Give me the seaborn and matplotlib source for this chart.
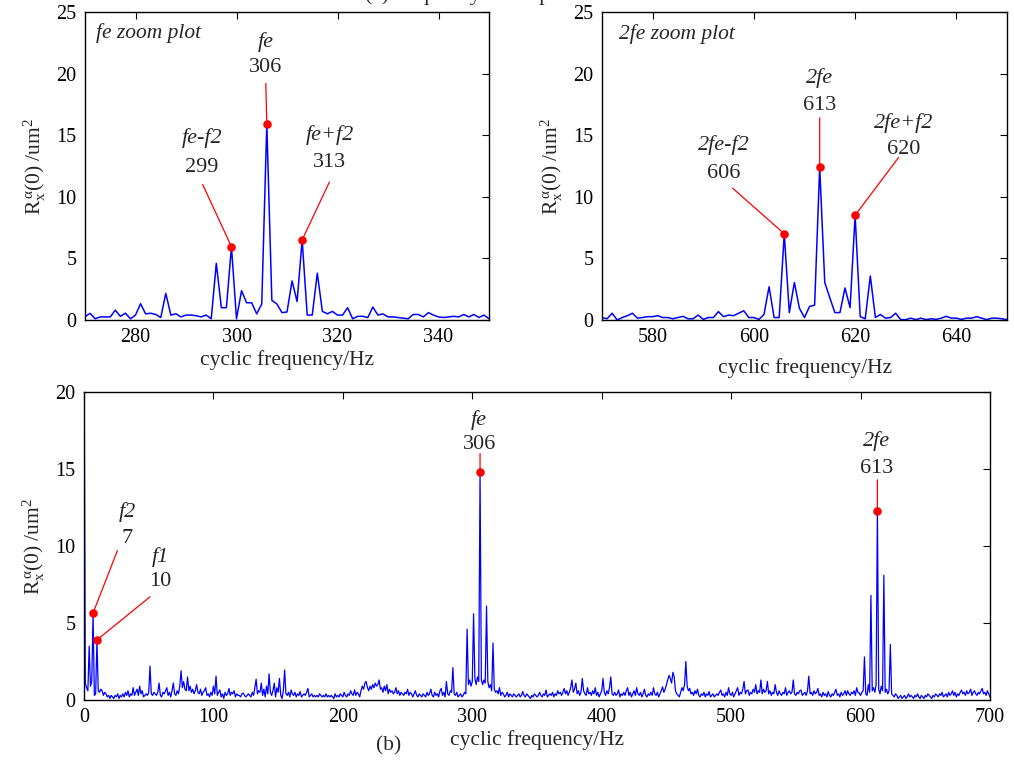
import numpy as np
import matplotlib
matplotlib.use("Agg")
import matplotlib.pyplot as plt
import seaborn as sns

# ---------------- data ----------------
fe_freq = list(range(270, 351))
fe_vals = [0.27, 0.54, 0.1, 0.25, 0.25, 0.25, 0.8, 0.3, 0.55, 0.1,
           0.4, 1.32, 0.5, 0.55, 0.45, 0.2, 2.16, 0.4, 0.5, 0.25,
           0.4, 0.4, 0.35, 0.25, 0.4, 0.1, 4.6, 1.0, 1.0, 5.95,
           0.1, 2.38, 1.4, 1.4, 0.5, 1.3, 15.9, 1.6, 1.3, 0.6,
           0.65, 3.17, 1.5, 6.5, 0.4, 0.4, 3.8, 0.7, 0.5, 0.7,
           0.4, 0.4, 1.0, 0.1, 0.3, 0.3, 0.2, 1.05, 0.4, 0.5,
           0.25, 0.25, 0.2, 0.15, 0.1, 0.45, 0.45, 0.25, 0.6, 0.4,
           0.25, 0.2, 0.25, 0.3, 0.25, 0.45, 0.25, 0.45, 0.2, 0.4,
           0.1]

fe2_freq = list(range(570, 651))
fe2_vals = [0.2, 0.1, 0.55, 0.0, 0.2, 0.35, 0.55, 0.15, 0.2, 0.27,
            0.27, 0.35, 0.2, 0.2, 0.1, 0.2, 0.3, 0.1, 0.1, 0.4,
            0.05, 0.2, 0.2, 0.68, 0.27, 0.4, 0.35, 0.55, 0.75, 0.2,
            0.2, 0.05, 0.45, 2.7, 0.2, 0.2, 7.0, 0.6, 3.05, 0.95,
            0.2, 1.1, 1.2, 12.4, 3.05, 1.8, 0.6, 0.6, 2.6, 1.0,
            8.5, 0.27, 0.1, 3.57, 0.2, 0.45, 0.15, 0.2, 0.55, 0.03,
            0.03, 0.15, 0.03, 0.15, 0.03, 0.1, 0.05, 0.15, 0.3, 0.15,
            0.15, 0.05, 0.15, 0.15, 0.27, 0.15, 0.03, 0.15, 0.15, 0.1,
            0.03]

full_freq = list(range(0, 701))
full_vals = [
    25.0, 1.1, 0.8, 0.6, 3.5, 0.9, 1.2, 5.65, 0.3, 0.4,
    3.9, 0.6, 0.5, 0.7, 0.6, 0.3, 0.5, 0.4, 0.2, 0.3,
    0.1, 0.3, 0.2, 0.1, 0.3, 0.2, 0.4, 0.1, 0.3, 0.2,
    0.4, 0.2, 0.5, 0.3, 0.6, 0.2, 0.4, 0.3, 0.8, 0.3,
    0.5, 0.7, 0.3, 0.9, 0.4, 0.6, 0.2, 0.3, 0.4, 0.3,
    0.5, 2.2, 0.4, 0.3, 0.5, 0.4, 0.3, 0.5, 1.1, 0.3,
    0.2, 0.5, 0.4, 0.6, 0.8, 0.3, 0.5, 0.2, 0.6, 1.1,
    0.4, 0.3, 0.6, 0.4, 0.9, 1.9, 0.8, 1.2, 0.7, 0.6,
    1.5, 0.6, 0.9, 0.5, 0.7, 0.4, 0.6, 1.0, 0.5, 0.4,
    0.7, 0.3, 0.5, 0.6, 0.8, 0.3, 0.4, 0.2, 0.5, 0.3,
    0.9, 0.4, 1.55, 0.3, 0.5, 0.65, 0.2, 0.4, 0.1, 0.5,
    0.3, 0.4, 0.75, 0.3, 0.5, 0.4, 0.6, 0.2, 0.4, 0.3,
    0.3, 0.2, 0.4, 0.45, 0.3, 0.2, 0.3, 0.4, 0.3, 0.2,
    0.5, 0.3, 0.8, 1.35, 0.4, 0.6, 0.5, 1.1, 0.3, 0.7,
    0.2, 0.9, 0.4, 1.7, 0.5, 0.3, 0.6, 1.1, 0.2, 0.8,
    0.5, 1.4, 0.3, 0.1, 0.6, 1.95, 0.4, 0.3, 0.5, 0.2,
    0.65, 0.4, 0.3, 0.5, 0.2, 0.4, 0.3, 0.55, 0.2, 0.3,
    0.4, 0.3, 0.5, 0.75, 0.2, 0.3, 0.4, 0.2, 0.3, 0.2,
    0.3, 0.2, 0.4, 0.3, 0.2, 0.3, 0.2, 0.4, 0.2, 0.3,
    0.2, 0.3, 0.2, 0.1, 0.4, 0.2, 0.3, 0.2, 0.4, 0.3,
    0.2, 0.5, 0.3, 0.2, 0.4, 0.3, 0.6, 0.4, 0.3, 0.65,
    0.3, 0.5, 0.4, 0.2, 0.6, 0.9, 0.7, 1.1, 1.2, 0.8,
    0.6, 0.9, 0.7, 1.0, 0.8, 1.1, 0.9, 1.0, 1.3, 0.7,
    0.8, 0.5, 0.9, 0.6, 1.0, 0.4, 0.7, 0.5, 0.6, 0.4,
    0.5, 0.8, 0.4, 0.6, 0.3, 0.5, 0.4, 0.3, 0.5, 0.4,
    0.7, 0.3, 0.5, 0.4, 0.2, 0.4, 0.6, 0.3, 0.2, 0.4,
    0.3, 0.2, 0.4, 0.3, 0.2, 0.5, 0.3, 0.4, 0.7, 0.3,
    0.2, 0.5, 0.3, 0.4, 0.2, 0.6, 0.75, 0.3, 0.5, 0.2,
    1.2, 0.4, 0.3, 0.6, 0.5, 2.1, 0.4, 0.3, 0.5, 0.2,
    0.3, 0.4, 0.2, 0.3, 0.5, 0.4, 4.6, 1.0, 1.3, 0.9,
    1.2, 5.6, 1.4, 1.0, 1.5, 1.2, 14.8, 1.3, 1.0, 1.3,
    1.1, 6.1, 1.2, 0.8, 1.0, 0.6, 3.7, 0.7, 0.5, 0.6,
    0.4, 0.8, 0.3, 0.5, 0.4, 0.2, 0.3, 0.5, 0.2, 0.4,
    0.3, 0.2, 0.4, 0.3, 0.2, 0.3, 0.4, 0.2, 0.3, 0.55,
    0.3, 0.2, 0.4, 0.3, 0.2, 0.1, 0.3, 0.2, 0.4, 0.3,
    0.2, 0.3, 0.5, 0.3, 0.2, 0.4, 0.3, 0.65, 0.2, 0.3,
    0.4, 0.3, 0.5, 0.2, 0.4, 0.3, 0.6, 0.4, 0.5, 0.3,
    0.5, 0.75, 0.4, 0.6, 0.3, 0.5, 0.8, 1.3, 0.5, 0.7,
    1.1, 0.4, 0.6, 0.3, 0.5, 1.4, 0.6, 0.4, 0.3, 0.8,
    0.4, 0.5, 0.3, 0.6, 0.4, 0.8, 0.3, 0.5, 0.2, 0.4,
    0.6, 1.4, 0.5, 0.3, 0.6, 0.4, 0.8, 1.5, 0.4, 0.3,
    0.5, 0.3, 0.4, 0.65, 0.2, 0.4, 0.3, 0.5, 0.3, 0.6,
    0.8, 0.3, 0.5, 0.2, 0.4, 0.6, 0.3, 0.8, 0.4, 0.3,
    0.5, 0.2, 0.4, 0.7, 0.3, 0.2, 0.4, 0.3, 0.5, 0.3,
    0.8, 0.4, 0.3, 0.5, 0.2, 0.4, 0.6, 0.85, 0.5, 0.7,
    1.0, 1.3, 1.6, 1.4, 1.1, 1.8, 1.5, 0.6, 0.4, 0.3,
    0.2, 0.5, 0.8, 0.6, 1.0, 2.5, 0.9, 0.6, 0.75, 0.4,
    0.5, 0.3, 0.6, 0.4, 0.7, 0.3, 0.2, 0.4, 0.3, 0.5,
    0.2, 0.4, 0.3, 0.55, 0.2, 0.3, 0.4, 0.2, 0.3, 0.4,
    0.3, 0.5, 0.65, 0.3, 0.4, 0.2, 0.5, 0.3, 0.8, 0.4,
    0.3, 0.5, 0.2, 0.4, 0.6, 0.8, 0.3, 0.5, 0.4, 0.7,
    1.2, 0.4, 0.6, 0.65, 0.3, 0.5, 0.4, 0.7, 0.5, 1.0,
    0.4, 0.6, 0.5, 1.3, 0.4, 0.7, 0.5, 0.6, 1.2, 0.4,
    0.6, 0.3, 0.5, 0.4, 1.0, 0.5, 0.3, 0.6, 0.4, 0.3,
    0.5, 0.4, 0.8, 0.3, 0.5, 0.6, 0.4, 0.5, 1.3, 0.4,
    0.3, 0.5, 0.4, 0.6, 0.65, 0.3, 0.4, 0.5, 0.3, 0.6,
    1.55, 0.4, 0.5, 0.3, 0.6, 0.4, 0.5, 0.75, 0.3, 0.4,
    0.2, 0.5, 0.3, 0.4, 0.2, 0.55, 0.3, 0.2, 0.4, 0.3,
    0.5, 0.7, 0.3, 0.4, 0.2, 0.5, 0.3, 0.4, 0.6, 0.3,
    0.6, 0.4, 0.3, 0.5, 0.4, 0.6, 0.3, 0.8, 0.5, 0.45,
    0.3, 0.5, 0.6, 2.8, 0.4, 0.3, 1.0, 0.5, 6.8, 0.6,
    0.8, 0.5, 1.0, 12.3, 0.7, 0.4, 0.9, 0.6, 8.1, 0.5,
    0.7, 0.4, 0.6, 3.6, 0.4, 0.3, 0.2, 0.4, 0.3, 0.1,
    0.2, 0.3, 0.1, 0.2, 0.3, 0.1, 0.2, 0.4, 0.2, 0.3,
    0.2, 0.1, 0.3, 0.2, 0.4, 0.2, 0.1, 0.3, 0.2, 0.1,
    0.3, 0.2, 0.4, 0.3, 0.2, 0.1, 0.3, 0.2, 0.4, 0.3,
    0.2, 0.4, 0.3, 0.5, 0.2, 0.3, 0.4, 0.2, 0.5, 0.3,
    0.4, 0.6, 0.3, 0.5, 0.2, 0.4, 0.3, 0.5, 0.65, 0.4,
    0.5, 0.3, 0.6, 0.4, 0.5, 0.7, 0.3, 0.5, 0.6, 0.4,
    0.3, 0.5, 0.4, 0.6, 0.75, 0.4, 0.5, 0.3, 0.6, 0.4,
    0.2]

# annotated peaks: (name, frequency)
fe_marks = [("fe-f2", 299), ("fe", 306), ("fe+f2", 313)]
fe2_marks = [("2fe-f2", 606), ("2fe", 613), ("2fe+f2", 620)]
full_marks = [("f2", 7), ("f1", 10), ("fe", 306), ("2fe", 613)]

# ---------------- style ----------------
sns.set_style("white")
plt.rcParams["font.family"] = ["Liberation Serif", "DejaVu Serif"]
plt.rcParams["mathtext.fontset"] = "stix"

W, H = 1014, 761
fig = plt.figure(figsize=(W / 100, H / 100), dpi=100)

def px_axes(l, t, r, b):
    return fig.add_axes([l / W, 1 - b / H, (r - l) / W, (b - t) / H])

ax1 = px_axes(85, 12, 489, 320)
ax2 = px_axes(602, 12, 1007, 320)
ax3 = px_axes(84, 392, 990, 700)

YLAB = r"$\mathregular{R_x^{\,\alpha}(0)\ /um^2}$"
TFS = 14.5

def style(ax, xlim, xticks, ylim, yticks):
    ax.set_xlim(*xlim)
    ax.set_ylim(*ylim)
    ax.set_xticks(xticks)
    ax.set_yticks(yticks)
    ax.tick_params(direction="in", top=True, right=True, length=5,
                   width=0.8, labelsize=TFS, colors="black", pad=6)
    for s in ax.spines.values():
        s.set_color("black")
        s.set_linewidth(1.0)
    ax.set_ylabel(YLAB, fontsize=15.5, labelpad=6)

def draw(ax, freq, vals, lw):
    sns.lineplot(x=freq, y=vals, ax=ax, color="#0000ff", lw=lw,
                 estimator=None, sort=False, legend=False)

def peaks(ax, freq, vals, marks):
    fx = [f for _, f in marks]
    fy = [vals[freq.index(f)] for f in fx]
    sns.scatterplot(x=fx, y=fy, ax=ax, color="red", s=38,
                    edgecolor="red", linewidth=0, zorder=5, legend=False)
    return dict(zip([n for n, _ in marks], zip(fx, fy)))

def label(ax, pt, name, num, name_xy, num_y, line_start, fs=16):
    ax.text(name_xy[0], name_xy[1], name, style="italic", fontsize=fs,
            ha="center", va="center")
    ax.text(name_xy[0], num_y, num, fontsize=fs, ha="center", va="center")
    ax.annotate("", xy=pt, xytext=line_start,
                arrowprops=dict(arrowstyle="-", color="red", lw=0.9,
                                shrinkA=0, shrinkB=0))

# ---- top-left: fe zoom ----
draw(ax1, fe_freq, fe_vals, 1.1)
style(ax1, (270, 350), [280, 300, 320, 340], (0, 25), [0, 5, 10, 15, 20, 25])
p1 = peaks(ax1, fe_freq, fe_vals, fe_marks)
ax1.text(272.2, 23.3, "fe zoom plot", style="italic", fontsize=15.5, va="center")
label(ax1, p1["fe"], "fe", "306", (305.8, 22.6), 20.5, (305.8, 19.2))
label(ax1, p1["fe-f2"], "fe-f2", "299", (293.1, 14.8), 12.4, (293.3, 11.0))
label(ax1, p1["fe+f2"], "fe+f2", "313", (318.4, 15.0), 12.8, (318.4, 11.2))
ax1.set_xlabel("cyclic frequency/Hz", fontsize=15.5, labelpad=2)

# ---- top-right: 2fe zoom ----
draw(ax2, fe2_freq, fe2_vals, 1.1)
style(ax2, (570, 650), [580, 600, 620, 640], (0, 25), [0, 5, 10, 15, 20, 25])
p2 = peaks(ax2, fe2_freq, fe2_vals, fe2_marks)
ax2.text(573.3, 23.2, "2fe zoom plot", style="italic", fontsize=15.5, va="center")
label(ax2, p2["2fe"], "2fe", "613", (612.9, 19.6), 17.4, (613, 16.4))
label(ax2, p2["2fe-f2"], "2fe-f2", "606", (594.0, 14.2), 11.9, (595.8, 10.7))
label(ax2, p2["2fe+f2"], "2fe+f2", "620", (629.5, 16.0), 13.85, (628.6, 13.2))
ax2.set_xlabel("cyclic frequency/Hz", fontsize=15.5, labelpad=8)

# ---- bottom: full range ----
draw(ax3, full_freq, full_vals, 0.9)
style(ax3, (0, 700), list(range(0, 701, 100)), (0, 20), [0, 5, 10, 15, 20])
p3 = peaks(ax3, full_freq, full_vals, full_marks)
label(ax3, p3["fe"], "fe", "306", (305.3, 18.2), 16.6, (306, 16.0))
label(ax3, p3["2fe"], "2fe", "613", (612.6, 16.8), 15.0, (613, 14.3))
label(ax3, p3["f2"], "f2", "7", (33.5, 12.2), 10.5, (25.8, 9.7))
label(ax3, p3["f1"], "f1", "10", (58.7, 9.3), 7.7, (51, 6.7))
ax3.set_xlabel("cyclic frequency/Hz", fontsize=15.5, labelpad=2)

fig.text(389 / W, 1 - 746 / H, "(b)", fontsize=15.5, ha="center", va="center")
fig.text(365 / W, 1.0, "(a) frequency zoom plot", fontsize=15.5,
         ha="left", va="baseline")

fig.savefig("out.png", dpi=100, facecolor="white")
